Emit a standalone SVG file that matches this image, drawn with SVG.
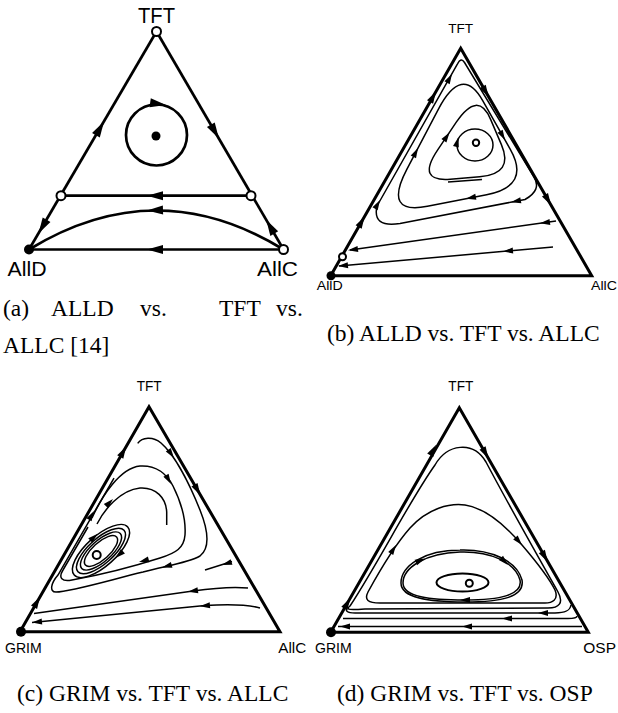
<svg xmlns="http://www.w3.org/2000/svg" xmlns:xlink="http://www.w3.org/1999/xlink" width="618" height="713" viewBox="0 0 618 713">
<style>
.tri{fill:none;stroke:#000;stroke-width:3;stroke-linejoin:miter}
.edA{fill:none;stroke:#000;stroke-width:2.7}
.tr{fill:none;stroke:#000;stroke-width:1.5}
.tr2{fill:none;stroke:#000;stroke-width:2}
.lbl{font-family:"Liberation Sans",Arial,sans-serif;fill:#000}
.cap{font-family:"Liberation Serif","Times New Roman",serif;font-size:23.5px;fill:#000}
.open{fill:#fff;stroke:#000;stroke-width:2}
.dot{fill:#000}
</style>
<defs>
<path id="hA" d="M0,0 L-16,-4.5 L-16,4.5 Z"/>
<path id="hE" d="M0,0 L-12,-3.5 L-12,3.5 Z"/>
<path id="hT" d="M0,0 L-10,-3 L-10,3 Z"/>
</defs>
<rect width="618" height="713" fill="#fff"/>

<!-- Panel (a) -->
<g id="panel-a">
<g id="a-connectors">
<path class="edA" d="M29,249.5 L156.5,31.5"/>
<path class="edA" d="M156.5,31.5 L283.5,249.5"/>
<path class="edA" d="M61,195.7 L251,195.7"/>
<path class="edA" d="M283.5,249.5 Q156.5,171.5 29,249.5"/>
<path class="edA" d="M283.5,249.5 L29,249.5"/>
<circle class="edA" cx="156.5" cy="135" r="30.5"/>
<use href="#hA" transform="translate(104,121.4) rotate(-59.7)"/>
<use href="#hA" transform="translate(38.5,233.6) rotate(120.3)"/>
<use href="#hA" transform="translate(218.9,138.6) rotate(59.8)"/>
<use href="#hA" transform="translate(266.2,219.8) rotate(-120.2)"/>
<use href="#hA" transform="translate(147,195.7) rotate(180)"/>
<use href="#hA" transform="translate(147,210.6) rotate(178)"/>
<use href="#hA" transform="translate(147,249.5) rotate(180)"/>
<use href="#hA" transform="translate(166,105) rotate(8)"/>
</g>
<g id="a-node-tft"><circle class="open" cx="156.5" cy="31.5" r="4.5"/><text class="lbl" x="156.5" y="22.5" font-size="22" text-anchor="middle" textLength="37" lengthAdjust="spacingAndGlyphs">TFT</text></g>
<g id="a-node-alld"><circle class="dot" cx="29" cy="249.5" r="5"/><text class="lbl" x="7.5" y="276" font-size="20" textLength="39" lengthAdjust="spacingAndGlyphs">AllD</text></g>
<g id="a-node-allc"><circle class="open" cx="283.5" cy="249.5" r="4.5"/><text class="lbl" x="257" y="276" font-size="20" textLength="41" lengthAdjust="spacingAndGlyphs">AllC</text></g>
<g id="a-node-left"><circle class="open" cx="61" cy="195.7" r="4.5"/></g>
<g id="a-node-right"><circle class="open" cx="251" cy="195.7" r="4.5"/></g>
<g id="a-node-center"><circle class="dot" cx="156" cy="136" r="4.5"/></g>
</g>

<!-- Panel (b) -->
<g id="panel-b">
<path class="tri" d="M460.7,48.3 L591.7,275.7 L330.7,275.7 Z"/>
<g id="b-connectors">
<path class="tr" d="M377,206 L457.5,63.8 Q461,57 464.5,62.5 L534,177 Q542,190 525,199.5 L400,223.5 Q372,228 377,206 Z"/>
<path class="tr" d="M406.7,169.7 L438.3,109.3 Q462,64 482.7,100.6 L510.3,149.4 Q531,186 486.6,194.7 L427.4,206.3 Q383,215 406.7,169.7 Z"/>
<path class="tr" d="M437.7,149.8 L456.3,122.2 Q478,90 490.6,119.4 L501.4,144.6 Q514,174 479.7,176.8 L450.3,179.2 Q416,182 437.7,149.8 Z"/>
<path class="tr" d="M448,182 L482,179.5"/>
<ellipse class="tr" cx="475" cy="145" rx="18" ry="16"/>
<path class="tr" d="M556,221 L350,250"/>
<path class="tr" d="M553,247 L339,266"/>
<use href="#hE" transform="translate(436,91.5) rotate(-60.25)"/>
<use href="#hE" transform="translate(364.6,216.5) rotate(-60.25)"/>
<use href="#hE" transform="translate(488.7,96.9) rotate(60)"/>
<use href="#hE" transform="translate(551,205.2) rotate(60)"/>
<use href="#hT" transform="translate(452,74) rotate(-60.5)"/>
<use href="#hT" transform="translate(380,200) rotate(-60.5)"/>
<use href="#hT" transform="translate(511,202.2) rotate(169)"/>
<use href="#hT" transform="translate(418,148) rotate(-62.4)"/>
<use href="#hT" transform="translate(466,198.7) rotate(168.9)"/>
<use href="#hT" transform="translate(505,140) rotate(60.5)"/>
<use href="#hT" transform="translate(449.5,132.5) rotate(-56)"/>
<use href="#hT" transform="translate(458.5,137) rotate(-75)"/>
<use href="#hT" transform="translate(540,223.3) rotate(172)"/>
<use href="#hT" transform="translate(348,250.3) rotate(172)"/>
<use href="#hT" transform="translate(503,251.4) rotate(174.9)"/>
<use href="#hT" transform="translate(338,266.1) rotate(174.9)"/>
</g>
<g id="b-node-tft"><text class="lbl" x="460.7" y="33" font-size="13.5" text-anchor="middle" textLength="25" lengthAdjust="spacingAndGlyphs">TFT</text></g>
<g id="b-node-alld"><circle class="dot" cx="331" cy="275.7" r="4.5"/><text class="lbl" x="316.7" y="290" font-size="12.5" textLength="26" lengthAdjust="spacingAndGlyphs">AllD</text></g>
<g id="b-node-allc"><text class="lbl" x="591" y="290" font-size="12.5" textLength="26" lengthAdjust="spacingAndGlyphs">AllC</text></g>
<g id="b-node-saddle"><circle class="open" cx="342.5" cy="256.7" r="3.5" stroke-width="1.5"/></g>
<g id="b-node-center"><circle class="open" cx="476" cy="142.7" r="3.2" stroke-width="1.4"/></g>
</g>

<!-- Panel (c) -->
<g id="panel-c">
<path class="tri" d="M149,406.7 L280,631.7 L20,631.7 Z"/>
<g id="c-connectors">
<path class="tr" d="M137.7,443.3 C142,437 153,436 161,443 C175,455 190,485 200,510 C208,530 210,548 200,556 C188,563 165,566 143,572 C110,580 70,592 56,592 C49,592 51,583 58,575 L114,478"/>
<path class="tr" d="M92,518 C102,496 120,468 140,466 C156,465 167,474 173,486 C181,502 186,520 185,535 C184,548 176,553 160,558 C135,566 100,575 72,580 C62,582 58,578 63,570 L88,527"/>
<path class="tr" d="M97,524 C104,510 120,490 140,488 C156,487 166,498 166.7,512 L166.7,525"/>
<g transform="translate(101,551) rotate(-42)">
<ellipse class="tr" cx="0" cy="0" rx="36" ry="15"/>
<ellipse class="tr" cx="0" cy="0" rx="31" ry="12.5"/>
<ellipse class="tr" cx="0" cy="0" rx="26" ry="10.5"/>
<ellipse class="tr" cx="0" cy="0" rx="21" ry="8.5"/>
</g>
<path class="tr" d="M205,570 L232,561.5"/>
<path class="tr" d="M248,588 Q228,586 193,591 L34,613.5"/>
<path class="tr" d="M260,608 Q242,603 205,605.5 L32,622.5"/>
<use href="#hE" transform="translate(126.2,446.5) rotate(-60.2)"/>
<use href="#hE" transform="translate(40,596.8) rotate(-60.2)"/>
<use href="#hE" transform="translate(200.5,495.2) rotate(59.8)"/>
<use href="#hT" transform="translate(174,458) rotate(55)"/>
<use href="#hT" transform="translate(162,567.5) rotate(165)"/>
<use href="#hT" transform="translate(171,484) rotate(60)"/>
<use href="#hT" transform="translate(139,562) rotate(165)"/>
<use href="#hT" transform="translate(113,499) rotate(-45)"/>
<use href="#hT" transform="translate(94,511) rotate(-60)"/>
<use href="#hT" transform="translate(97.7,533.8) rotate(-42)"/>
<use href="#hT" transform="translate(115.5,558) rotate(138)"/>
<use href="#hT" transform="translate(222,565) rotate(162.5)"/>
<use href="#hT" transform="translate(188,591.7) rotate(171.7)"/>
<use href="#hT" transform="translate(200,606.2) rotate(174.4)"/>
<use href="#hT" transform="translate(32,622.5) rotate(174.4)"/>
</g>
<g id="c-node-tft"><text class="lbl" x="149.2" y="390.7" font-size="14" text-anchor="middle" textLength="25" lengthAdjust="spacingAndGlyphs">TFT</text></g>
<g id="c-node-grim"><circle class="dot" cx="21" cy="631.7" r="5"/><text class="lbl" x="5" y="653.3" font-size="14" textLength="36.7" lengthAdjust="spacingAndGlyphs">GRIM</text></g>
<g id="c-node-allc"><text class="lbl" x="278.3" y="653.3" font-size="14" textLength="28" lengthAdjust="spacingAndGlyphs">AllC</text></g>
<g id="c-node-center"><circle class="open" cx="96.7" cy="555" r="4" stroke-width="1.4"/></g>
</g>

<!-- Panel (d) -->
<g id="panel-d">
<path class="tri" d="M459.3,407.7 L588.3,632.3 L330.7,632.3 Z"/>
<g id="d-connectors">
<path class="tr" d="M350,606 C380,560 410,500 435,465 C447,444 473,440 486,462 C506,500 536,553 558,592 C564,603 559,608 548,608 L365,609 C350,610 345,610 350,606 Z"/>
<path class="tr" d="M368,592 C380,570 395,545 410,528 C428,508 450,503 465,505 C485,508 505,525 522,545 C540,566 550,580 555,590 C559,600 552,603 545,603 L380,603 C368,603 364,600 368,592 Z"/>
<path class="tr" d="M465,600 C430,600 403,597 403,583 C403,568 425,553 460,552 C490,551 515,562 520,580 C523,595 500,600 465,600 Z"/>
<path class="tr" d="M465,602 C428,602 401,598 401,583 C401,566 424,550 460,550 C491,549 517,561 522,580 C525,597 502,602 465,602"/>
<ellipse class="tr2" cx="462.5" cy="582.5" rx="26" ry="9"/>
<path class="tr" d="M571,605 C570,611 565,613 555,613 L355,613 C347,613 345,611 347,607"/>
<path class="tr" d="M577,616 C577,618 574,618.5 568,618.5 L343,618.5"/>
<path class="tr" d="M582,626.5 L338,626.5"/>
<use href="#hE" transform="translate(436.2,444.8) rotate(-60.2)"/>
<use href="#hE" transform="translate(350.3,598.1) rotate(-60.2)"/>
<use href="#hE" transform="translate(488.5,458.5) rotate(60.2)"/>
<use href="#hE" transform="translate(547.8,561.9) rotate(60.2)"/>
<use href="#hT" transform="translate(396,545) rotate(-58)"/>
<use href="#hT" transform="translate(522,545) rotate(49)"/>
<use href="#hT" transform="translate(425,558.5) rotate(-24)"/>
<use href="#hT" transform="translate(508,565) rotate(45)"/>
<use href="#hT" transform="translate(460,600) rotate(180)"/>
<use href="#hT" transform="translate(538,613) rotate(180)"/>
<use href="#hT" transform="translate(502,618.5) rotate(180)"/>
<use href="#hT" transform="translate(462,626.5) rotate(180)"/>
<use href="#hT" transform="translate(340,626.5) rotate(180)"/>
</g>
<g id="d-node-tft"><text class="lbl" x="460.8" y="390.7" font-size="14" text-anchor="middle" textLength="25" lengthAdjust="spacingAndGlyphs">TFT</text></g>
<g id="d-node-grim"><circle class="dot" cx="331" cy="632.3" r="5"/><text class="lbl" x="315" y="653.3" font-size="14" textLength="36.7" lengthAdjust="spacingAndGlyphs">GRIM</text></g>
<g id="d-node-osp"><text class="lbl" x="583.3" y="653.3" font-size="14" textLength="32.7" lengthAdjust="spacingAndGlyphs">OSP</text></g>
<g id="d-node-center"><circle class="open" cx="469.3" cy="583.3" r="3.5" stroke-width="1.4"/></g>
</g>

<!-- Captions -->
<g id="captions">
<text class="cap" y="316"><tspan x="3">(a)</tspan><tspan x="51">ALLD</tspan><tspan x="140">vs.</tspan><tspan x="219">TFT</tspan><tspan x="276">vs.</tspan></text>
<text class="cap" x="3" y="353">ALLC [14]</text>
<text class="cap" x="327" y="341">(b) ALLD vs. TFT vs. ALLC</text>
<text class="cap" x="17" y="701">(c) GRIM vs. TFT vs. ALLC</text>
<text class="cap" x="337" y="701">(d) GRIM vs. TFT vs. OSP</text>
</g>
</svg>
